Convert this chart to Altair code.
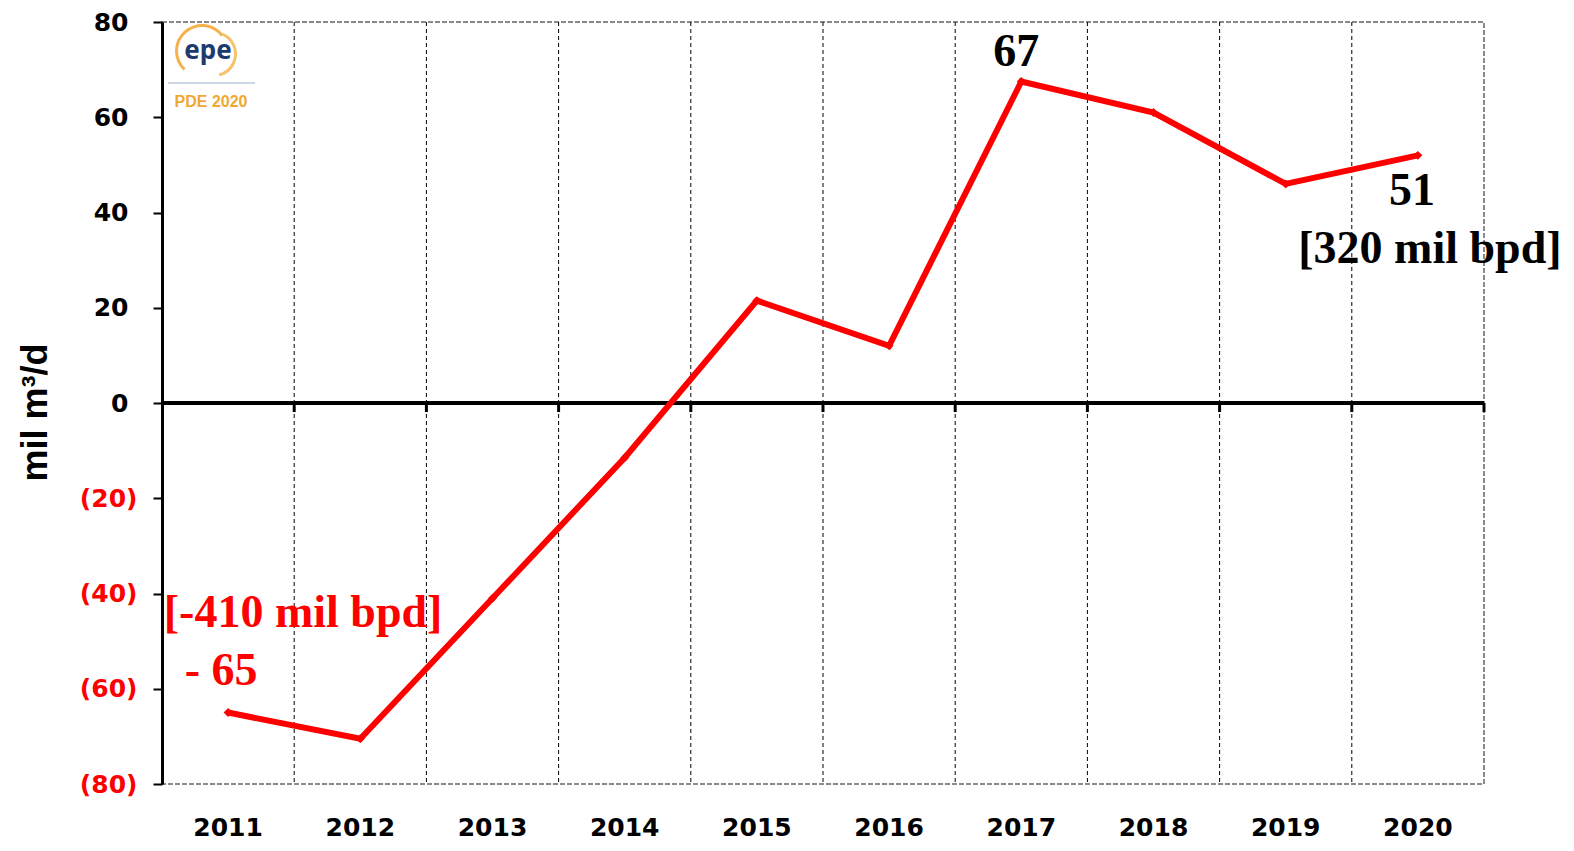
import altair as alt
import pandas as pd

years = ["2011", "2012", "2013", "2014", "2015", "2016", "2017", "2018", "2019", "2020"]
values = [-65, -70.5, -41, -11.5, 21.5, 12, 67.5, 61, 46, 52]
y_ticks = [-80, -60, -40, -20, 0, 20, 40, 60, 80]

df = pd.DataFrame({"year": years, "value": values})

X = alt.X("year:O", scale=alt.Scale(paddingInner=0, paddingOuter=0),
          axis=alt.Axis(title=None, domain=False, ticks=False, grid=False, labelAngle=0,
                        bandPosition=0.5, labelAlign="center",
                        labelFont="DejaVu Sans", labelFontWeight="bold", labelFontSize=25,
                        labelPadding=43, labelColor="black"))
Y = alt.Y("value:Q", scale=alt.Scale(domain=[-80, 80], nice=False, zero=False),
          axis=alt.Axis(values=y_ticks, title="mil m³/d",
                        labelExpr="datum.value < 0 ? '(' + abs(datum.value) + ')' : '' + datum.value",
                        labelColor={"condition": {"test": "datum.value < 0", "value": "#ff0000"}, "value": "black"},
                        labelPadding={"condition": {"test": "datum.value < 0", "value": 16}, "value": 25},
                        labelFont="DejaVu Sans", labelFontWeight="bold", labelFontSize=25,
                        domainColor="black", domainWidth=3, tickColor="black", tickWidth=2, tickSize=9,
                        gridColor="black", gridDash=[4, 3], gridWidth=1,
                        gridOpacity={"condition": {"test": "abs(datum.value) == 80", "value": 0}, "value": 1},
                        titleFont="Liberation Sans", titleFontSize=36, titleFontWeight="bold",
                        titleColor="black", titleX=-127, titleY=390, titleAlign="center",
                        titleBaseline="middle", titleAngle=-90))

base = alt.Chart(df)

vgrid = base.mark_rule(color="black", strokeWidth=1, strokeDash=[4, 3]).encode(
    x=alt.X("year:O", bandPosition=0)).transform_filter("datum.year != '2011'")
zero = base.mark_rule(color="black", strokeWidth=3).encode(y=alt.datum(0))
zticks = base.mark_rule(color="black", strokeWidth=3).encode(
    x=alt.X("year:O", bandPosition=1), y=alt.datum(0), y2=alt.datum(-1.9))
line = base.mark_line(color="#ff0000", strokeWidth=6).encode(x=X, y=Y)
pts = base.mark_point(shape="diamond", filled=True, size=80, color="#ff0000", opacity=1).encode(x="year:O", y="value:Q")


def ann(text, year, color, dx, dy):
    return alt.Chart(df).transform_filter(f"datum.year == '{year}'").mark_text(
        text=text, color=color, font="Liberation Serif", fontWeight="bold", fontSize=46,
        dx=dx, dy=dy, align="center", baseline="middle").encode(x="year:O", y="value:Q")


anns = [
    ann("[-410 mil bpd]", "2011", "#ff0000", 75, -100),
    ann("- 65", "2011", "#ff0000", -7, -42),
    ann("67", "2017", "black", -5, -30),
    ann("51", "2020", "black", -6, 36),
    ann("[320 mil bpd]", "2020", "black", 12, 94),
]

one = pd.DataFrame({"t": ["epe"]})
arc1 = alt.Chart(one).mark_arc(radius=27, radius2=24, theta=3.9, theta2=7.2, color="#f6b24a").encode(
    x=alt.value(40), y=alt.value(29))
arc2 = alt.Chart(one).mark_arc(radius=23, radius2=20, theta=0.4, theta2=2.9, color="#f6c26a").encode(
    x=alt.value(52), y=alt.value(32))
epe = alt.Chart(one).mark_text(text="epe", color="#1c3a6e", font="Noto Sans", fontWeight="bold",
                               fontSize=26, align="center", baseline="middle").encode(
    x=alt.value(46), y=alt.value(29))
wave = alt.Chart(one).mark_rule(color="#9ab0c8", strokeWidth=1).encode(
    x=alt.value(6), x2=alt.value(93), y=alt.value(61))
pde = alt.Chart(one).mark_text(text="PDE 2020", color="#f0a833", font="Liberation Sans", fontWeight="bold",
                               fontSize=16, align="center", baseline="middle").encode(
    x=alt.value(49), y=alt.value(80))

chart = alt.layer(vgrid, zero, zticks, line, pts, *anns, arc1, arc2, epe, wave, pde).properties(
    width=1322, height=762, autosize=alt.AutoSizeParams(type="none"),
    padding={"left": 154, "top": 14, "right": 82, "bottom": 59}
).configure_view(stroke="#8a8a8a", strokeWidth=2, strokeDash=[5, 2])

chart.save("out.html", embed_options={"renderer": "svg", "actions": False})
